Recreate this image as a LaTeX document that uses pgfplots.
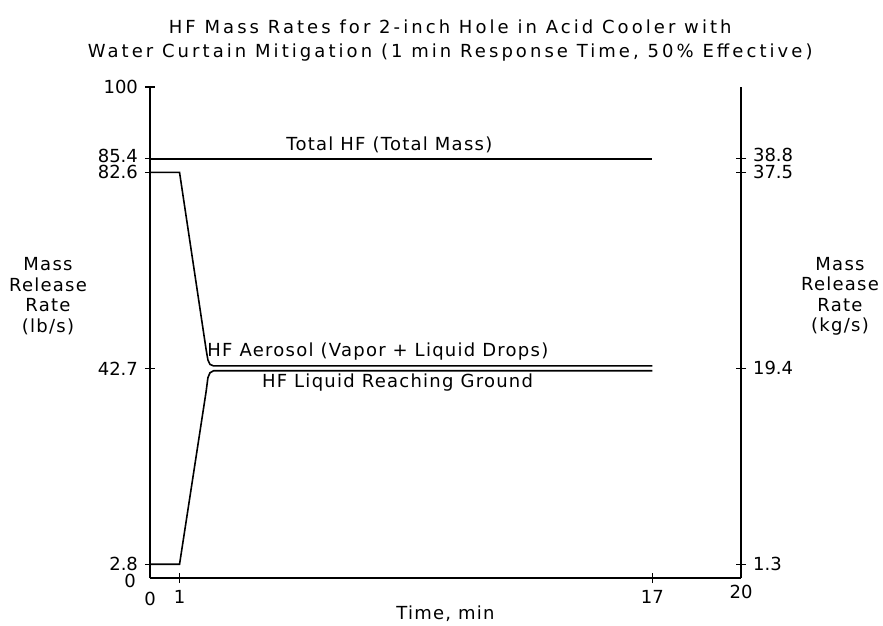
\documentclass[border=0pt]{standalone}
\usepackage{fontspec}
\setmainfont{DejaVu Sans}[LetterSpace=7]
\newfontfamily\numfont{DejaVu Sans}
\newfontfamily\titlefont{DejaVu Sans}[LetterSpace=17]
\usepackage{pgfplots}
\pgfplotsset{compat=1.18}

\begin{document}
\begin{tikzpicture}[font=\fontsize{9}{10.25}\selectfont]
% picture frame: 1 px of the reference = 0.5pt
\path[use as bounding box] (-75pt,-24pt) rectangle (366.5pt,289pt);

\begin{axis}[%
at={(0,0)}, anchor=south west,
width=295.5pt, height=245.5pt,
scale only axis,
xmin=0, xmax=20,
ymin=0, ymax=100,
axis x line*=bottom,
axis y line*=left,
axis line style={-, line width=0.75pt},
tick align=center,
major tick length=5pt,
tick style={black, line width=0.75pt},
ticklabel style={font=\fontsize{9}{10}\numfont},
xtick={1,17}, xticklabels={1,17},
extra x ticks={20}, extra x tick labels={20},
extra x tick style={major tick length=0pt},
ytick={2.8,42.7,82.6,100},
yticklabels={2.8,42.7,82.6,100},
extra y ticks={85.4}, extra y tick labels={85.4},
extra y tick style={yticklabel style={yshift=1.5pt}},
clip=false
]
\addplot[black, line width=1pt] coordinates {(0,85.4)(17,85.4)};
\addplot[black, line width=0.8pt] coordinates {
(0,82.6)(1,82.6)(1.9,46.5)(1.96,44.4)(2.03,43.5)(2.15,43.2)(17,43.2)};
\addplot[black, line width=0.8pt] coordinates {
(0,2.8)(1,2.8)(1.9,38.0)(1.96,40.8)(2.03,41.8)(2.15,42.2)(17,42.2)};

\node[font=\fontsize{9}{10}\numfont] at ([yshift=-10.5pt]axis cs:0,0) {0};
\node[font=\fontsize{9}{10}\numfont, anchor=east] at ([xshift=-3.5pt,yshift=-1.5pt]axis cs:0,0) {0};

\node at (axis cs:8.1,88.2) {Total HF (Total Mass)};
\node[anchor=west, inner sep=0pt] at (axis cs:1.93,46.2) {HF Aerosol (Vapor + Liquid Drops)};
\node[anchor=west, inner sep=0pt] at (axis cs:3.78,39.9) {HF Liquid Reaching Ground};

\node[align=center, font=\fontsize{9}{12}\titlefont] at (rel axis cs:0.508,1.095) {HF Mass Rates for 2-inch Hole in Acid Cooler with\\
Water Curtain Mitigation (1 min Response Time, 50\% Effective)};
\node[align=center] at ([xshift=-51pt]rel axis cs:0,0.574) {Mass\\Release\\Rate\\(lb/s)};
\node[align=center] at ([xshift=49.5pt]rel axis cs:1,0.574) {Mass\\Release\\Rate\\(kg/s)};
\node at ([yshift=-18pt]rel axis cs:0.5,0) {Time, min};
\end{axis}

\begin{axis}[%
at={(0,0)}, anchor=south west,
width=295.5pt, height=245.5pt,
scale only axis,
xmin=0, xmax=20,
ymin=0, ymax=100,
axis x line=none,
axis y line*=right,
axis line style={-, line width=0.75pt},
tick align=center,
major tick length=5pt,
tick style={black, line width=0.75pt},
ticklabel style={font=\fontsize{9}{10}\numfont},
ytick={2.8,42.7,82.6},
yticklabels={1.3,19.4,37.5},
extra y ticks={85.4}, extra y tick labels={38.8},
extra y tick style={yticklabel style={yshift=2pt}}
]
\end{axis}
\end{tikzpicture}
\end{document}
